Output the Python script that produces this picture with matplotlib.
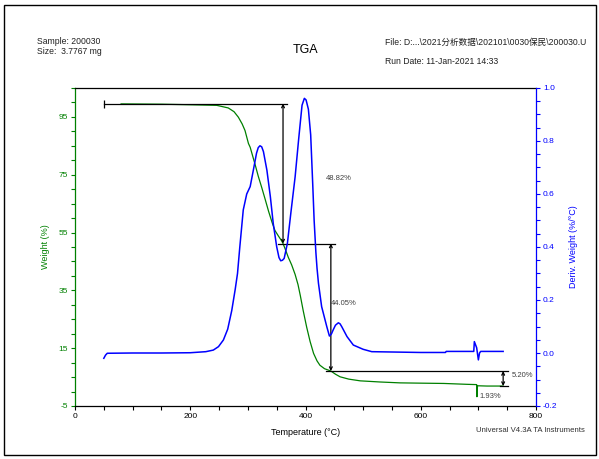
import matplotlib
matplotlib.use("Agg")
import matplotlib.pyplot as plt
from matplotlib.ticker import MultipleLocator, FixedLocator, FormatStrFormatter
from matplotlib.patches import Rectangle

plt.rcParams["font.family"] = ["Liberation Sans", "Noto Sans CJK SC", "DejaVu Sans"]
plt.rcParams["axes.unicode_minus"] = False

# weight curve (%)
temp_w = [80, 150, 200, 246, 266, 276, 283.5, 290, 295, 301, 304, 309, 313, 318, 324, 330,
          336, 342, 347, 353, 359, 361, 365, 370, 376, 382, 387, 391, 396, 402, 408, 414,
          420, 425, 433, 444, 452, 460, 475, 495, 530, 564, 600, 640, 680, 697, 697.5, 698.5,
          715, 743]
weight = [99.5, 99.4, 99.2, 99.0, 98.1, 96.8, 94.9, 92.6, 90.3, 85.8, 84.5, 81.0, 78.2, 74.5,
          70.6, 66.5, 62.3, 58.5, 55.7, 53.8, 52.0, 51.2, 49.2, 46.5, 43.8, 40.5, 37.0, 33.2,
          28.0, 22.3, 17.3, 13.2, 10.6, 9.1, 7.9, 7.1, 6.0, 5.1, 4.3, 3.7, 3.3, 3.0, 2.9, 2.8,
          2.5, 2.4, -1.8, 2.0, 1.9, 1.9]

# derivative weight curve (%/°C)
temp_d = [50, 53, 56, 100, 150, 200, 227, 240, 249, 257.5, 265, 272, 278, 282, 286, 292, 298,
          304, 309.5, 315, 318, 321, 324, 327, 333, 339, 344, 350, 354, 357, 360, 363, 368.6,
          374.5, 382, 388, 391, 394, 398, 401, 405, 409, 412.6, 415, 418, 420, 422.5, 428, 437,
          441.5, 445, 448, 452, 457, 460, 463, 472, 483, 500, 515, 600, 643, 644, 692, 693,
          697, 700, 702, 704, 743]
deriv = [-0.02, -0.008, -0.001, 0.0, 0.0, 0.001, 0.005, 0.011, 0.024, 0.049, 0.09, 0.16, 0.24,
         0.30, 0.40, 0.54, 0.60, 0.628, 0.69, 0.754, 0.775, 0.782, 0.778, 0.76, 0.69, 0.59,
         0.489, 0.401, 0.36, 0.348, 0.350, 0.357, 0.414, 0.527, 0.665, 0.804, 0.87, 0.935,
         0.961, 0.955, 0.92, 0.823, 0.634, 0.50, 0.38, 0.32, 0.263, 0.175, 0.099, 0.064, 0.072,
         0.087, 0.105, 0.114, 0.11, 0.099, 0.062, 0.030, 0.014, 0.005, 0.002, 0.002, 0.006,
         0.006, 0.043, 0.02, -0.026, 0.0, 0.006, 0.006]

# step analysis
step_temps = [361, 444, 743]
step_top = [99.6, 51.2, 7.1]
step_bottom = [51.2, 7.1, 1.9]
step_labels = ["48.82%", "44.05%", "5.20%"]
residue_label = "1.93%"

GREEN = "#008000"
BLUE = "#0000ff"

fig = plt.figure(figsize=(5.99, 4.59), dpi=100)
fig.patches.append(Rectangle((4 / 599, 4 / 459), 592 / 599, 450 / 459, transform=fig.transFigure,
                             fill=False, edgecolor="black", lw=1.0))

ax = fig.add_axes([75 / 599, 1 - 406 / 459, 461 / 599, 318 / 459])
ax2 = ax.twinx()

ax.plot(temp_w, weight, color=GREEN, lw=0.9, zorder=3)
ax2.plot(temp_d, deriv, color=BLUE, lw=1.1, zorder=3)

ax.set_xlim(0, 800)
ax.set_ylim(-5, 105)
ax2.set_ylim(-0.2, 1.0)

ax.xaxis.set_major_locator(MultipleLocator(200))
ax.xaxis.set_minor_locator(MultipleLocator(50))
ax.yaxis.set_major_locator(FixedLocator([-5, 15, 35, 55, 75, 95]))
ax.yaxis.set_minor_locator(MultipleLocator(5))
ax2.yaxis.set_major_locator(MultipleLocator(0.2))
ax2.yaxis.set_minor_locator(MultipleLocator(0.05))
ax2.yaxis.set_major_formatter(FormatStrFormatter("%.1f"))

for a in (ax, ax2):
    for s in a.spines.values():
        s.set_linewidth(0.9)
ax.spines["left"].set_color(GREEN)
ax.spines["right"].set_visible(False)
ax.spines["top"].set_color("black")
ax.spines["bottom"].set_color("black")
ax2.spines["right"].set_color(BLUE)
ax2.spines["left"].set_visible(False)
ax2.spines["top"].set_visible(False)
ax2.spines["bottom"].set_visible(False)

ax.tick_params(axis="x", which="both", direction="out", length=3, width=0.8, colors="black",
               labelsize=6, pad=2, top=False)
ax.tick_params(axis="y", which="both", direction="out", length=3, width=0.8, color=GREEN,
               labelcolor=GREEN, labelsize=6, pad=2)
ax2.tick_params(axis="y", which="both", direction="out", length=3, width=0.8, color=BLUE,
                labelcolor=BLUE, labelsize=6, pad=2)

ax.set_xlabel("Temperature (°C)", fontsize=6.5, labelpad=6)
ax.set_ylabel("Weight (%)", fontsize=6.5, color=GREEN, labelpad=6)
ax2.set_ylabel("Deriv. Weight (%/°C)", fontsize=6.5, color=BLUE, labelpad=8)

# step annotation lines
hl = dict(color="black", lw=0.9, zorder=4)
ax.plot([50, 368], [step_top[0]] * 2, **hl)
ax.plot([50], [step_top[0]], marker="|", ms=6, mew=0.9, color="black", zorder=4)
ax.plot([352, 451], [step_top[1]] * 2, **hl)
ax.plot([436, 752], [step_top[2]] * 2, **hl)
ax.plot([737, 752], [step_bottom[2]] * 2, **hl)
for t, top, bot in zip(step_temps, step_top, step_bottom):
    ax.annotate("", xy=(t, top), xytext=(t, bot),
                arrowprops=dict(arrowstyle="<->", lw=0.9, color="black", shrinkA=0, shrinkB=0,
                                mutation_scale=5), zorder=5)

lbl = dict(fontsize=5.5, color="#404040", zorder=6)
ax.text(457, 73.6, step_labels[0], ha="center", va="center", **lbl)
ax.text(467, 30.5, step_labels[1], ha="center", va="center", **lbl)
ax.text(758, 5.4, step_labels[2], ha="left", va="center", **lbl)
ax.text(720, -1.8, residue_label, ha="center", va="center", **lbl)

# header texts
fig.text(37 / 599, 1 - 42 / 459, "Sample: 200030", fontsize=6.2, va="center", color="#202020")
fig.text(37 / 599, 1 - 52 / 459, "Size:  3.7767 mg", fontsize=6.2, va="center", color="#202020")
fig.text(306 / 599, 1 - 50 / 459, "TGA", fontsize=9, ha="center", va="center")
fig.text(385 / 599, 1 - 42 / 459, "File: D:...\\2021分析数据\\202101\\0030保民\\200030.U",
         fontsize=6.2, va="center", color="#202020")
fig.text(385 / 599, 1 - 61 / 459, "Run Date: 11-Jan-2021 14:33", fontsize=6.2, va="center",
         color="#202020")
fig.text(585 / 599, 1 - 430 / 459, "Universal V4.3A TA Instruments", fontsize=5.6, ha="right",
         va="center", color="#303030")

fig.savefig("out.png", dpi=100)
